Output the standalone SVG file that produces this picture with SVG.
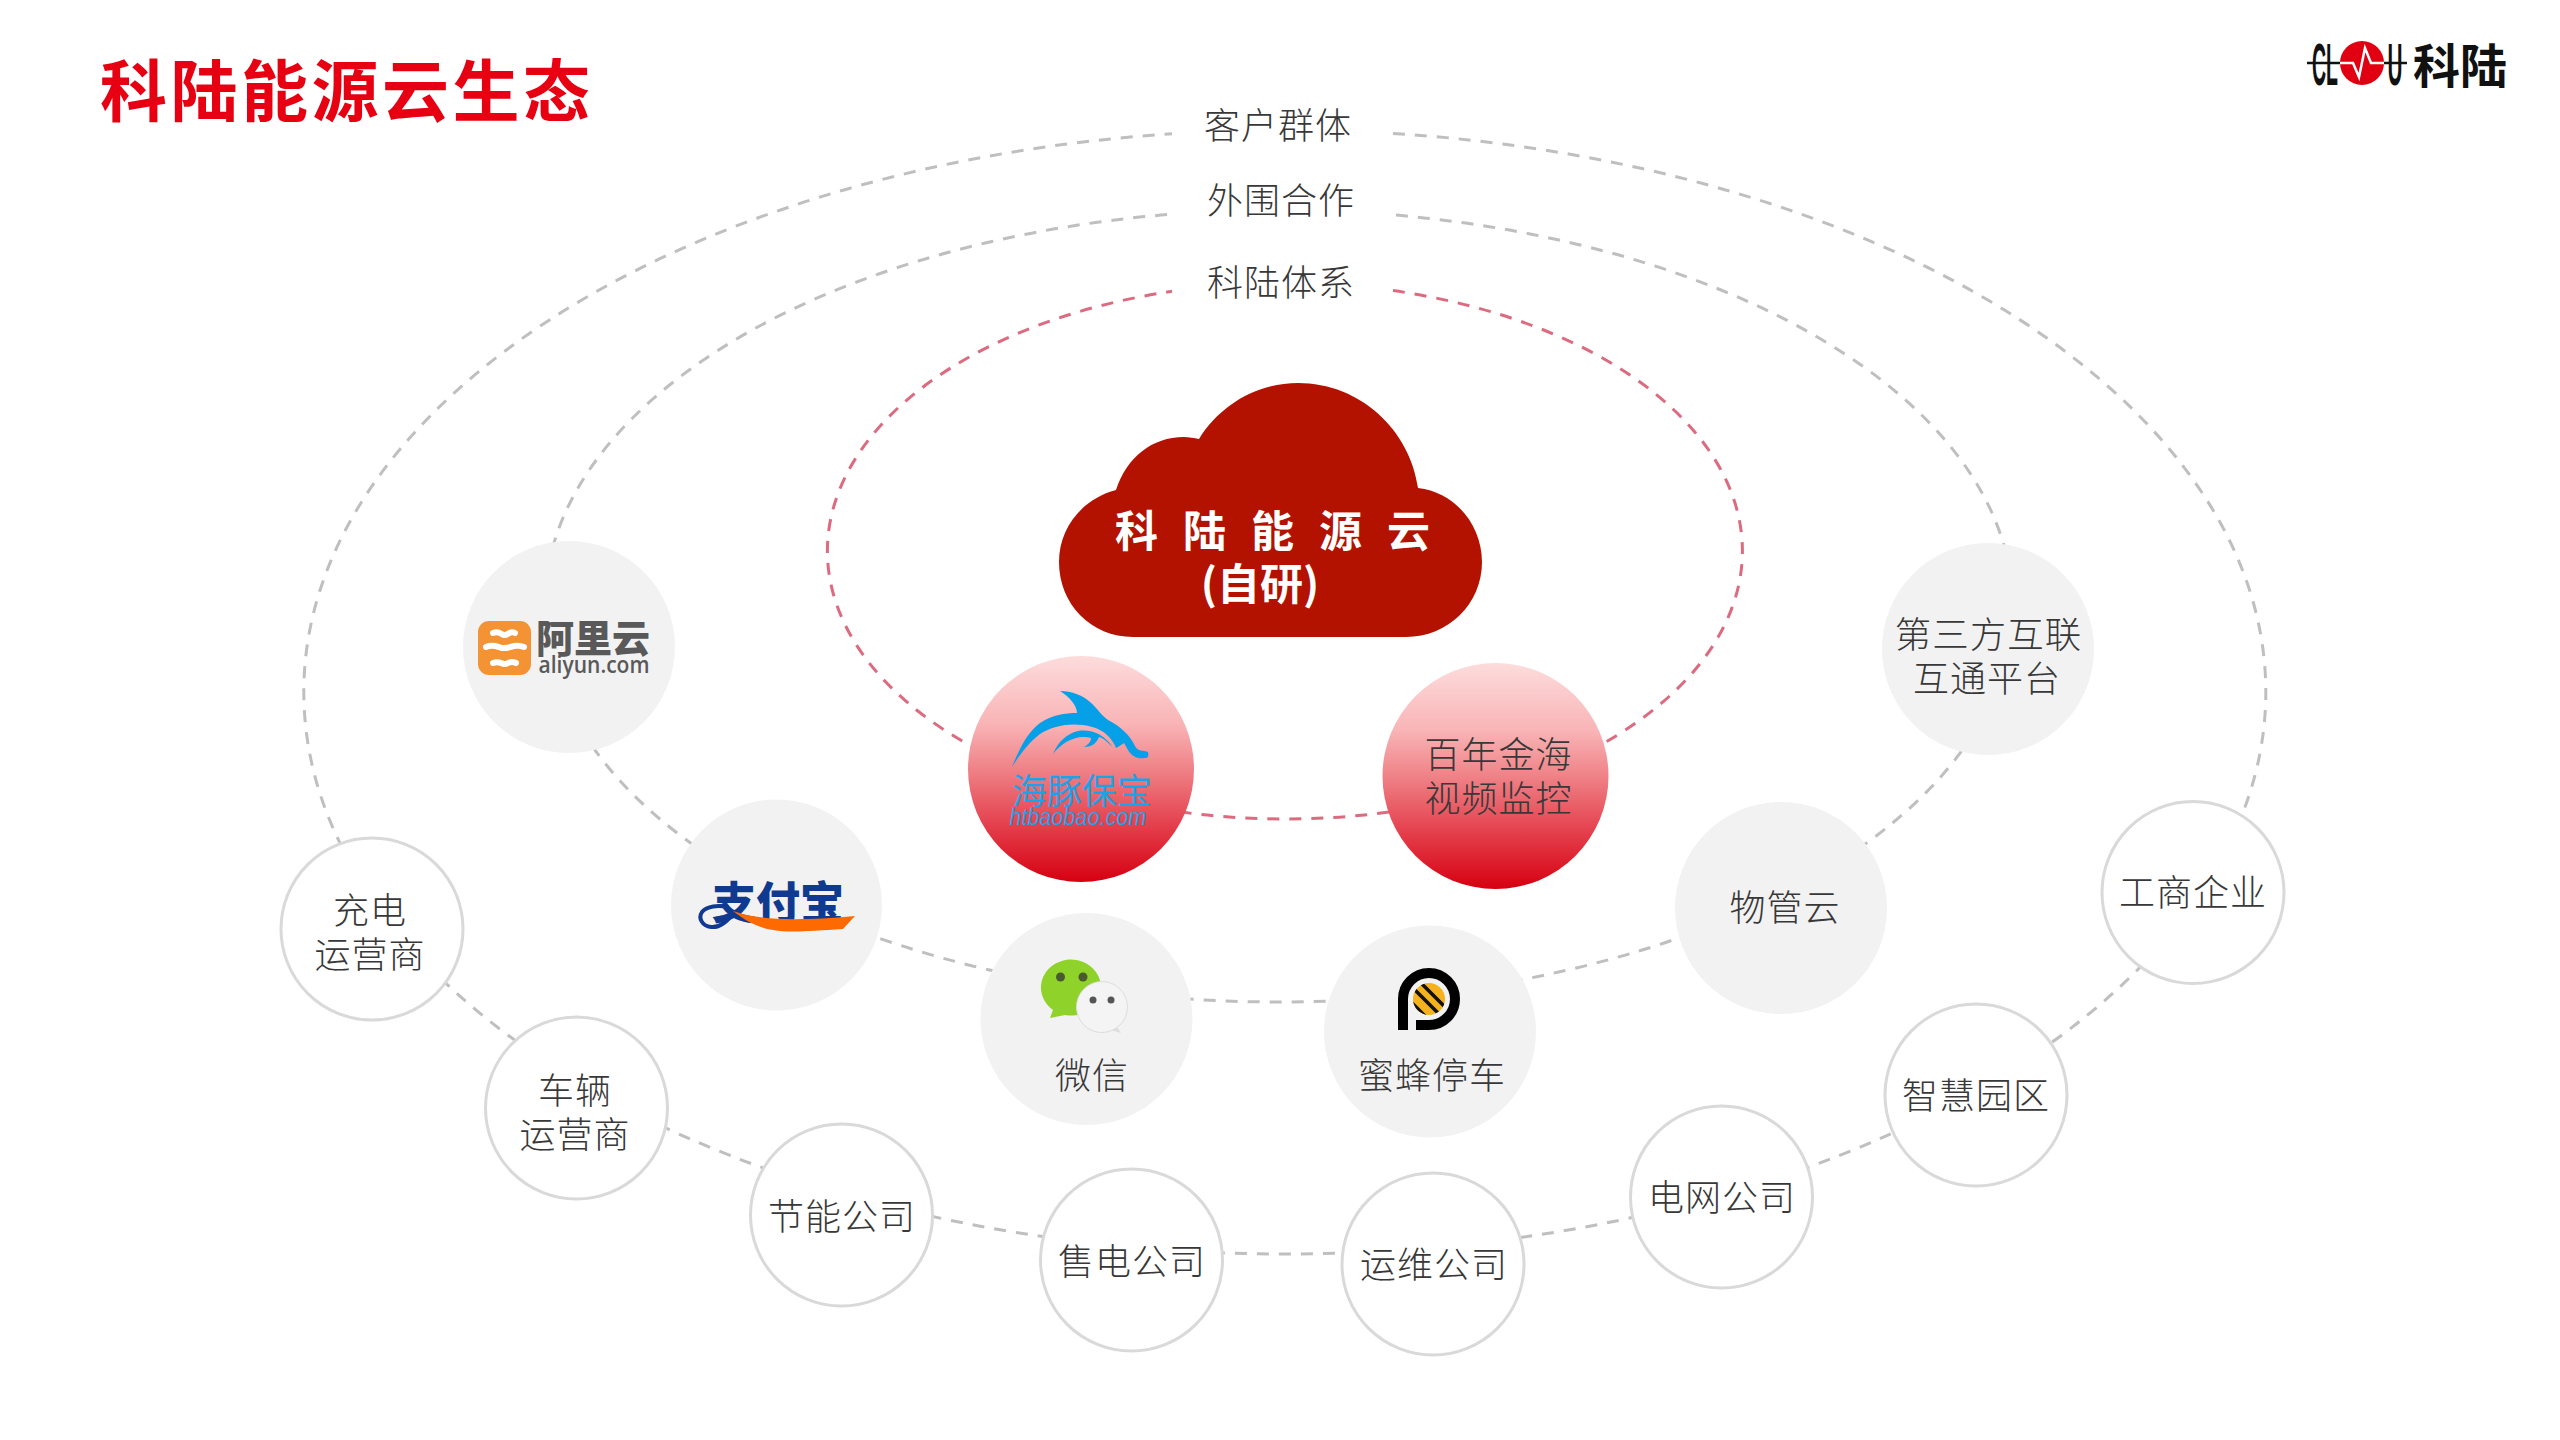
<svg xmlns="http://www.w3.org/2000/svg" width="2560" height="1440" viewBox="0 0 2560 1440">
<style>
text{font-family:"Noto Sans CJK SC","Noto Sans",sans-serif;fill:#383838;font-size:36px;font-weight:300;text-anchor:middle}
.lbl{letter-spacing:1px}
.title{font-size:67px;font-weight:700;fill:#e60012;text-anchor:start;letter-spacing:3.5px}
.cloudt{font-size:43px;font-weight:700;fill:#fff}
.gray{fill:none;stroke:#bfbfbf;stroke-width:3;stroke-dasharray:12 10}
.red{fill:none;stroke:#dc6b80;stroke-width:3;stroke-dasharray:12 10}
.soft{fill:#f2f2f2}
.out{fill:#fff;stroke:#d9d9d9;stroke-width:3}
.grad{fill:url(#g)}
</style>
<defs>
<linearGradient id="g" x1="0" y1="0" x2="0" y2="1">
<stop offset="0" stop-color="#fddcdc"/><stop offset=".3" stop-color="#f9b4b6"/><stop offset=".5" stop-color="#ef8287"/><stop offset=".75" stop-color="#e43f4c"/><stop offset="1" stop-color="#d60010"/>
</linearGradient>
<clipPath id="pc"><circle cx="1429" cy="999" r="16"/></clipPath>
</defs>
<rect width="2560" height="1440" fill="#fff"/>
<text class="title" x="100" y="116">科陆能源云生态</text>

<g id="logo">
<text x="2325" y="85" style="font-family:'Liberation Sans',sans-serif;font-size:60px;font-weight:700;fill:#111" textLength="26" lengthAdjust="spacingAndGlyphs">CL</text>
<text x="2395" y="85" style="font-family:'Liberation Sans',sans-serif;font-size:60px;font-weight:700;fill:#111" textLength="15" lengthAdjust="spacingAndGlyphs">U</text>
<path d="M2307 63H2407" stroke="#111" stroke-width="2.500"/>
<circle cx="2362" cy="63" r="22" fill="#e00012"/>
<path d="M2340 63H2353L2359 77L2365 48L2371 63H2384" fill="none" stroke="#fff" stroke-width="2.500"/>
<text x="2460" y="83" style="font-size:47px;font-weight:700;fill:#111">科陆</text>
</g>

<g id="connectors">
<path class="gray" d="M1393 133.400A981 562 0 1 1 1172 133.700"/>
<path class="gray" d="M1396 215.100A734 396 0 1 1 1172 214.200"/>
<path class="red" d="M1393 290.600A457.500 268 0 1 1 1172 291.300"/>
</g>

<text class="lbl" x="1278" y="139">客户群体</text>
<text class="lbl" x="1281" y="214">外围合作</text>
<text class="lbl" x="1281" y="296">科陆体系</text>

<g id="cloud">
<path d="M1133 637C1091 637 1059 604 1059 562C1059 528 1082 499 1116 490C1127 457 1152 437 1184 437C1189 437 1194 438 1199 439C1220 405 1257 383 1298 383C1360 383 1410 430 1418 488C1455 492 1482 525 1482 562C1482 604 1448 637 1406 637Z" fill="#b31200"/>
<text class="cloudt" x="1115" y="547" style="text-anchor:start;letter-spacing:25px">科陆能源云</text>
<text class="cloudt" x="1260" y="600">(自研)</text>
</g>

<g id="haitun">
<circle class="grad" cx="1081" cy="769" r="113"/>
<path d="M1012 767C1020 747 1028 732 1040 723C1052 715 1065 713 1077 713C1077 706 1070 697 1060 691C1072 691 1082 695 1090 702C1098 709 1102 716 1108 720C1120 726 1130 735 1135 746C1138 752 1143 750 1148 752C1149 756 1148 758 1145 758C1138 759 1132 757 1128 750L1124 743C1122 745 1119 746 1116 748C1112 738 1104 730 1092 727C1074 722 1054 725 1040 734C1028 743 1019 756 1012 767Z" fill="#06a0e9"/>
<path d="M1053 754C1058 742 1066 734 1078 731C1090 729 1104 733 1113 748C1108 742 1103 738 1099 737C1097 742 1093 747 1084 747C1089 744 1091 741 1091 738C1078 734 1063 741 1053 754Z" fill="#06a0e9"/>
<text x="1082" y="804" style="font-size:35px;font-weight:400;fill:#1aa3e8">海豚保宝</text>
<text x="1078" y="825" style="font-family:'Liberation Sans',sans-serif;font-size:24px;font-weight:400;font-style:italic;fill:#1aa3e8" textLength="137" lengthAdjust="spacingAndGlyphs">htbaobao.com</text>
</g>

<g id="bainian">
<circle class="grad" cx="1495.500" cy="776" r="113"/>
<text class="lbl" x="1498.500" y="768">百年金海</text>
<text class="lbl" x="1498.500" y="812">视频监控</text>
</g>

<g id="aliyun">
<circle class="soft" cx="569" cy="647" r="106"/>
<rect x="478" y="621" width="53" height="54" rx="11" fill="#f39333"/>
<path d="M493 633C500 630 502 636 505 635C508 635 510 630 515 633M486 647C495 643 500 649 505 648C511 648 515 643 524 647M493 663C500 660 502 665 505 664C508 664 510 660 516 663" fill="none" stroke="#fff" stroke-width="6" stroke-linecap="round"/>
<text x="593" y="652" style="font-size:38px;font-weight:900;fill:#595959">阿里云</text>
<text x="594" y="673" style="font-family:'Open Sans',sans-serif;font-weight:600;font-size:23px;fill:#595959" textLength="111" lengthAdjust="spacingAndGlyphs">aliyun.com</text>
</g>

<g id="alipay">
<circle class="soft" cx="776.500" cy="905" r="105.500"/>
<text x="778" y="919" style="font-size:44px;font-weight:900;fill:#0f3a8f">支付宝</text>
<path d="M735 911C728 921 720 928 711 927C702 926 698 918 702 912C707 906 718 905 728 907" fill="none" stroke="#0f3a8f" stroke-width="4"/>
<path d="M733 911C755 919 790 922 855 916L843 929C810 931 790 933 773 930C755 927 745 920 733 911Z" fill="#ff6a00"/>
</g>

<g id="wechat">
<circle class="soft" cx="1086.500" cy="1019" r="106"/>
<path d="M1050 1018L1053 1010A30 28 0 1 1 1065 1015Z" fill="#8fd22a"/>
<path d="M1121 1033L1116 1026L1108 1029Z" fill="#ddd"/>
<circle cx="1102" cy="1007" r="25.500" fill="#f4f4f4" stroke="#ddd" stroke-width="1"/>
<circle cx="1060.500" cy="977" r="4.500" fill="#4a5a30"/><circle cx="1083" cy="977" r="4.500" fill="#4a5a30"/>
<circle cx="1093" cy="1000" r="3.500" fill="#555"/><circle cx="1111" cy="1000" r="3.500" fill="#555"/>
<text class="lbl" x="1092" y="1089">微信</text>
</g>

<g id="mifeng">
<circle class="soft" cx="1430" cy="1031.500" r="106"/>
<path d="M1403 1030V999A26 26 0 1 1 1429 1025H1416" fill="none" stroke="#000" stroke-width="10"/>
<circle cx="1429" cy="999" r="16" fill="#f5b21c"/>
<path d="M1410 985L1445 1020M1418 980L1453 1015M1402 993L1437 1028" clip-path="url(#pc)" stroke="#111" stroke-width="3.500"/>
<text class="lbl" x="1432" y="1089">蜜蜂停车</text>
</g>

<g id="wuguan"><circle class="soft" cx="1781" cy="908" r="106"/><text class="lbl" x="1785" y="921">物管云</text></g>
<g id="third"><circle class="soft" cx="1988" cy="649" r="106"/><text class="lbl" x="1988.500" y="648" style="font-size:36.500px">第三方互联</text><text class="lbl" x="1987" y="692">互通平台</text></g>

<g id="n1"><circle class="out" cx="372" cy="929" r="91"/><text class="lbl" x="370" y="924">充电</text><text class="lbl" x="370" y="968">运营商</text></g>
<g id="n2"><circle class="out" cx="576.500" cy="1108" r="91"/><text class="lbl" x="575" y="1104">车辆</text><text class="lbl" x="575" y="1148">运营商</text></g>
<g id="n3"><circle class="out" cx="841.500" cy="1215" r="91"/><text class="lbl" x="842" y="1230">节能公司</text></g>
<g id="n4"><circle class="out" cx="1131.500" cy="1260" r="91"/><text class="lbl" x="1132" y="1275">售电公司</text></g>
<g id="n5"><circle class="out" cx="1433" cy="1264" r="91"/><text class="lbl" x="1434" y="1278">运维公司</text></g>
<g id="n6"><circle class="out" cx="1721.500" cy="1197" r="91"/><text class="lbl" x="1722" y="1211">电网公司</text></g>
<g id="n7"><circle class="out" cx="1976" cy="1095" r="91"/><text class="lbl" x="1976" y="1109">智慧园区</text></g>
<g id="n8"><circle class="out" cx="2193" cy="892.500" r="91"/><text class="lbl" x="2193" y="906">工商企业</text></g>
</svg>
